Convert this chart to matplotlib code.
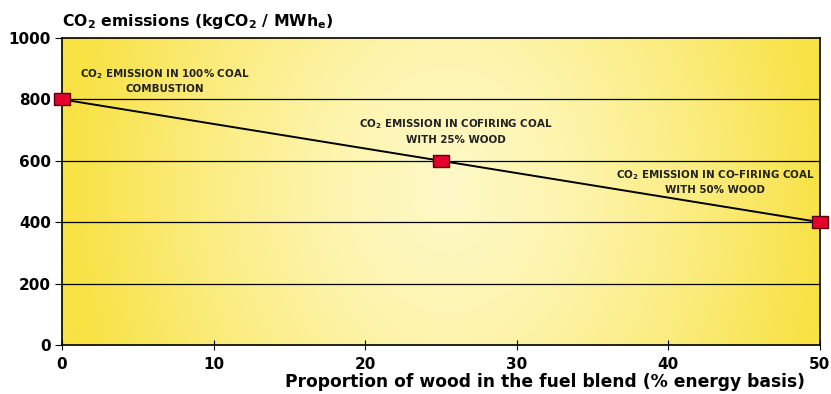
import numpy as np
import matplotlib.pyplot as plt
from matplotlib.colors import LinearSegmentedColormap

plt.rcParams['font.family'] = ['DejaVu Sans']
plt.rcParams['font.weight'] = 'bold'
plt.rcParams['mathtext.fontset'] = 'custom'
plt.rcParams['mathtext.rm'] = 'DejaVu Sans:bold'
plt.rcParams['mathtext.default'] = 'rm'

# data
wood_share = [0, 25, 50]
co2 = [800, 600, 400]
labels = [r'CO$_2$ EMISSION IN 100% COAL' + '\nCOMBUSTION',
          r'CO$_2$ EMISSION IN COFIRING COAL' + '\nWITH 25% WOOD',
          r'CO$_2$ EMISSION IN CO–FIRING COAL' + '\nWITH 50% WOOD']
label_pos = [(6.8, 862), (26.0, 697), (43.1, 533)]

fig = plt.figure(figsize=(8.31, 3.94), dpi=100)
ax = fig.add_axes([0.0746, 0.1244, 0.912, 0.7792])

# yellow background gradient, pale in the middle
cmap = LinearSegmentedColormap.from_list('bg', ['#f8e244', '#fbec7e', '#fdf4ac', '#fef9c8'])
xx = np.linspace(-1, 1, 400)
yy = np.linspace(-1, 1, 200)
X, Y = np.meshgrid(xx, yy)
r = np.sqrt(((X - 0.02) / 1.0) ** 2 + (Y / 3.0) ** 2)
ax.imshow(1 - np.clip(r, 0, 1), extent=[0, 50, 0, 1000], aspect='auto',
          cmap=cmap, zorder=0, vmin=0, vmax=1)

for yv in [200, 400, 600, 800]:
    ax.axhline(yv, color='black', lw=0.9, zorder=1)

marker = [(-1.35, -1), (1.35, -1), (1.35, 1), (-1.35, 1), (-1.35, -1)]
ax.plot(wood_share, co2, color='black', lw=1.4, zorder=2)
ax.plot(wood_share, co2, ls='none', marker=marker, ms=11, mfc='#e4002b',
        mec='#5a0010', mew=1, zorder=3, clip_on=False)

for (tx, ty), t in zip(label_pos, labels):
    ax.text(tx, ty, t, ha='center', va='center', fontsize=7.4,
            fontweight='bold', linespacing=1.4, color='#222222')

ax.set_xlim(0, 50)
ax.set_ylim(0, 1000)
ax.set_xticks([0, 10, 20, 30, 40, 50])
ax.set_yticks([0, 200, 400, 600, 800, 1000])
ax.tick_params(axis='x', direction='inout', length=7, labelsize=11, pad=5)
ax.tick_params(axis='y', direction='out', length=5, labelsize=11, pad=3)
for lab in ax.get_xticklabels() + ax.get_yticklabels():
    lab.set_fontweight('bold')
for s in ax.spines.values():
    s.set_linewidth(1.2)

fig.text(0.656, 0.03, 'Proportion of wood in the fuel blend (% energy basis)',
         fontsize=12.3, fontweight='bold', ha='center', va='center')
fig.text(0.0746, 0.945, r'CO$_2$ emissions (kgCO$_2$ / MWh$_e$)',
         fontsize=11.3, fontweight='bold', ha='left', va='center')

fig.savefig('out.png', dpi=100)
